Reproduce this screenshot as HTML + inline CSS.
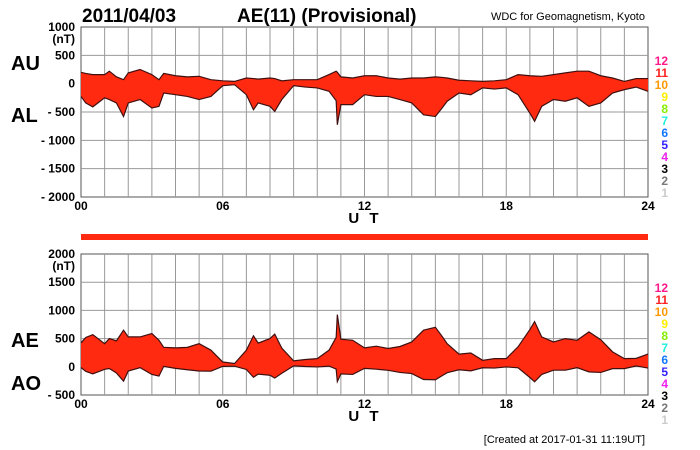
<!DOCTYPE html>
<html><head><meta charset="utf-8"><style>
body{margin:0;background:#fff;}
svg{display:block;font-family:"Liberation Sans",Arial,sans-serif;}
.t{font-weight:bold;}
</style></head><body>
<svg id="c" width="700" height="450" viewBox="0 0 700 450">
<text x="82" y="22" class="t" font-size="19">2011/04/03</text>
<text x="237" y="22" class="t" font-size="19">AE(11) (Provisional)</text>
<text x="645" y="20" font-size="11" text-anchor="end">WDC for Geomagnetism, Kyoto</text>
<text x="11" y="70" class="t" font-size="20">AU</text>
<text x="11" y="122" class="t" font-size="20">AL</text>
<text x="11" y="347" class="t" font-size="20">AE</text>
<text x="11" y="390" class="t" font-size="20">AO</text>
<rect x="81" y="234" width="567" height="6" fill="#ff2a10"/>
<text x="645" y="443" font-size="11" text-anchor="end">[Created at 2017-01-31 11:19UT]</text>
<g id="top"></g><g id="bot"></g>
</svg>
<script>
const hours=[0,0.2,0.5,1,1.2,1.5,1.8,2,2.5,3,3.3,3.5,4,4.5,5,5.5,6,6.5,7,7.3,7.5,8,8.2,8.5,9,9.5,10,10.5,10.8,10.85,11,11.5,12,12.5,13,13.5,14,14.5,15,15.3,15.5,16,16.5,17,17.5,18,18.5,19,19.2,19.5,20,20.5,21,21.5,22,22.5,23,23.5,24];
const au=[200,180,160,160,220,120,70,190,250,160,70,180,140,120,130,70,50,40,100,90,80,100,90,50,70,70,70,160,220,200,120,100,140,140,100,80,100,100,120,110,100,60,50,40,50,70,160,140,135,130,160,190,220,220,140,100,40,90,90];
const al=[-225,-340,-410,-250,-280,-340,-580,-340,-280,-430,-400,-165,-195,-225,-280,-225,-35,-18,-195,-460,-340,-400,-490,-280,-35,-60,-75,-135,-300,-725,-370,-370,-195,-225,-225,-280,-340,-550,-580,-420,-310,-165,-195,-75,-95,-75,-195,-520,-665,-400,-280,-310,-250,-400,-340,-165,-105,-60,-135];
const yTop=["1000","500","0","- 500","- 1000","- 1500","- 2000"];
const yBot=["2000","1500","1000","500","0","- 500"];
const xTicks=["00","06","12","18","24"];
const legendNums=["12","11","10","9","8","7","6","5","4","3","2","1"];
const legendCols=["#ff1a8c","#ff2020","#ff9900","#ffee00","#88ee00","#22eedd","#1177ff","#3322ff","#ee22ee","#000","#777","#ccc"];
const NS="http://www.w3.org/2000/svg";
const X0=81,X1=648;
const x=h=>X0+(X1-X0)*h/24;
function mk(p,t,a){const e=document.createElementNS(NS,t);for(const k in a)e.setAttribute(k,a[k]);p.appendChild(e);return e;}
function panel(g,y0,y1,vmax,vmin,labels,upper,lower,nm){
  const y=v=>y0+(vmax-v)/(vmax-vmin)*(y1-y0);
  const bg=mk(g,'rect',{x:X0,y:y0,width:X1-X0,height:y1-y0,fill:'#fff',stroke:'#555'});
  
  for(let h=1;h<24;h++){const l=mk(g,'line',{x1:x(h),x2:x(h),y1:y0,y2:y1,stroke:'#999','stroke-width':1});
    }
  labels.forEach((s,i)=>{const v=vmax-i*500,yy=y(v);
    if(i>0&&i<labels.length-1){const l=mk(g,'line',{x1:X0,x2:X1,y1:yy,y2:yy,stroke:'#999'});
      }
    const t=mk(g,'text',{x:75,y:yy+4,'font-size':12,'font-weight':'bold','text-anchor':'end'});t.textContent=s;
    });
  const u=mk(g,'text',{x:75,y:y(vmax)+16,'font-size':12,'font-weight':'bold','text-anchor':'end'});u.textContent='(nT)';
  
  let up=hours.map((h,i)=>x(h)+','+y(upper[i])),lo=hours.map((h,i)=>x(h)+','+y(lower[i]));
  const a=mk(g,'polygon',{points:up.concat(lo.slice().reverse()).join(' '),fill:'#ff2a10'});
  
  const l1=mk(g,'polyline',{points:up.join(' '),fill:'none',stroke:'#401010','stroke-width':1.2});
  
  const l2=mk(g,'polyline',{points:lo.join(' '),fill:'none',stroke:'#401010','stroke-width':1.2});
  
  xTicks.forEach((s,i)=>{const t=mk(g,'text',{x:x(i*6),y:y1+13,'font-size':12,'font-weight':'bold','text-anchor':'middle'});t.textContent=s;
    });
  const ut=mk(g,'text',{x:365,y:y1+26,'font-size':15,'font-weight':'bold','text-anchor':'middle','letter-spacing':'3'});ut.textContent='U T';
  
  legendNums.forEach((s,i)=>{const t=mk(g,'text',{x:668,y:y0+38+i*12,'font-size':12,'font-weight':'bold','text-anchor':'end',fill:legendCols[i]});t.textContent=s;
    });
}
const ae=au.map((v,i)=>v-al[i]);
const ao=au.map((v,i)=>(v+al[i])/2);
panel(document.getElementById('top'),27,197,1000,-2000,yTop,au,al,'top');
panel(document.getElementById('bot'),254,395,2000,-500,yBot,ae,ao,'bottom');
</script>
</body></html>
